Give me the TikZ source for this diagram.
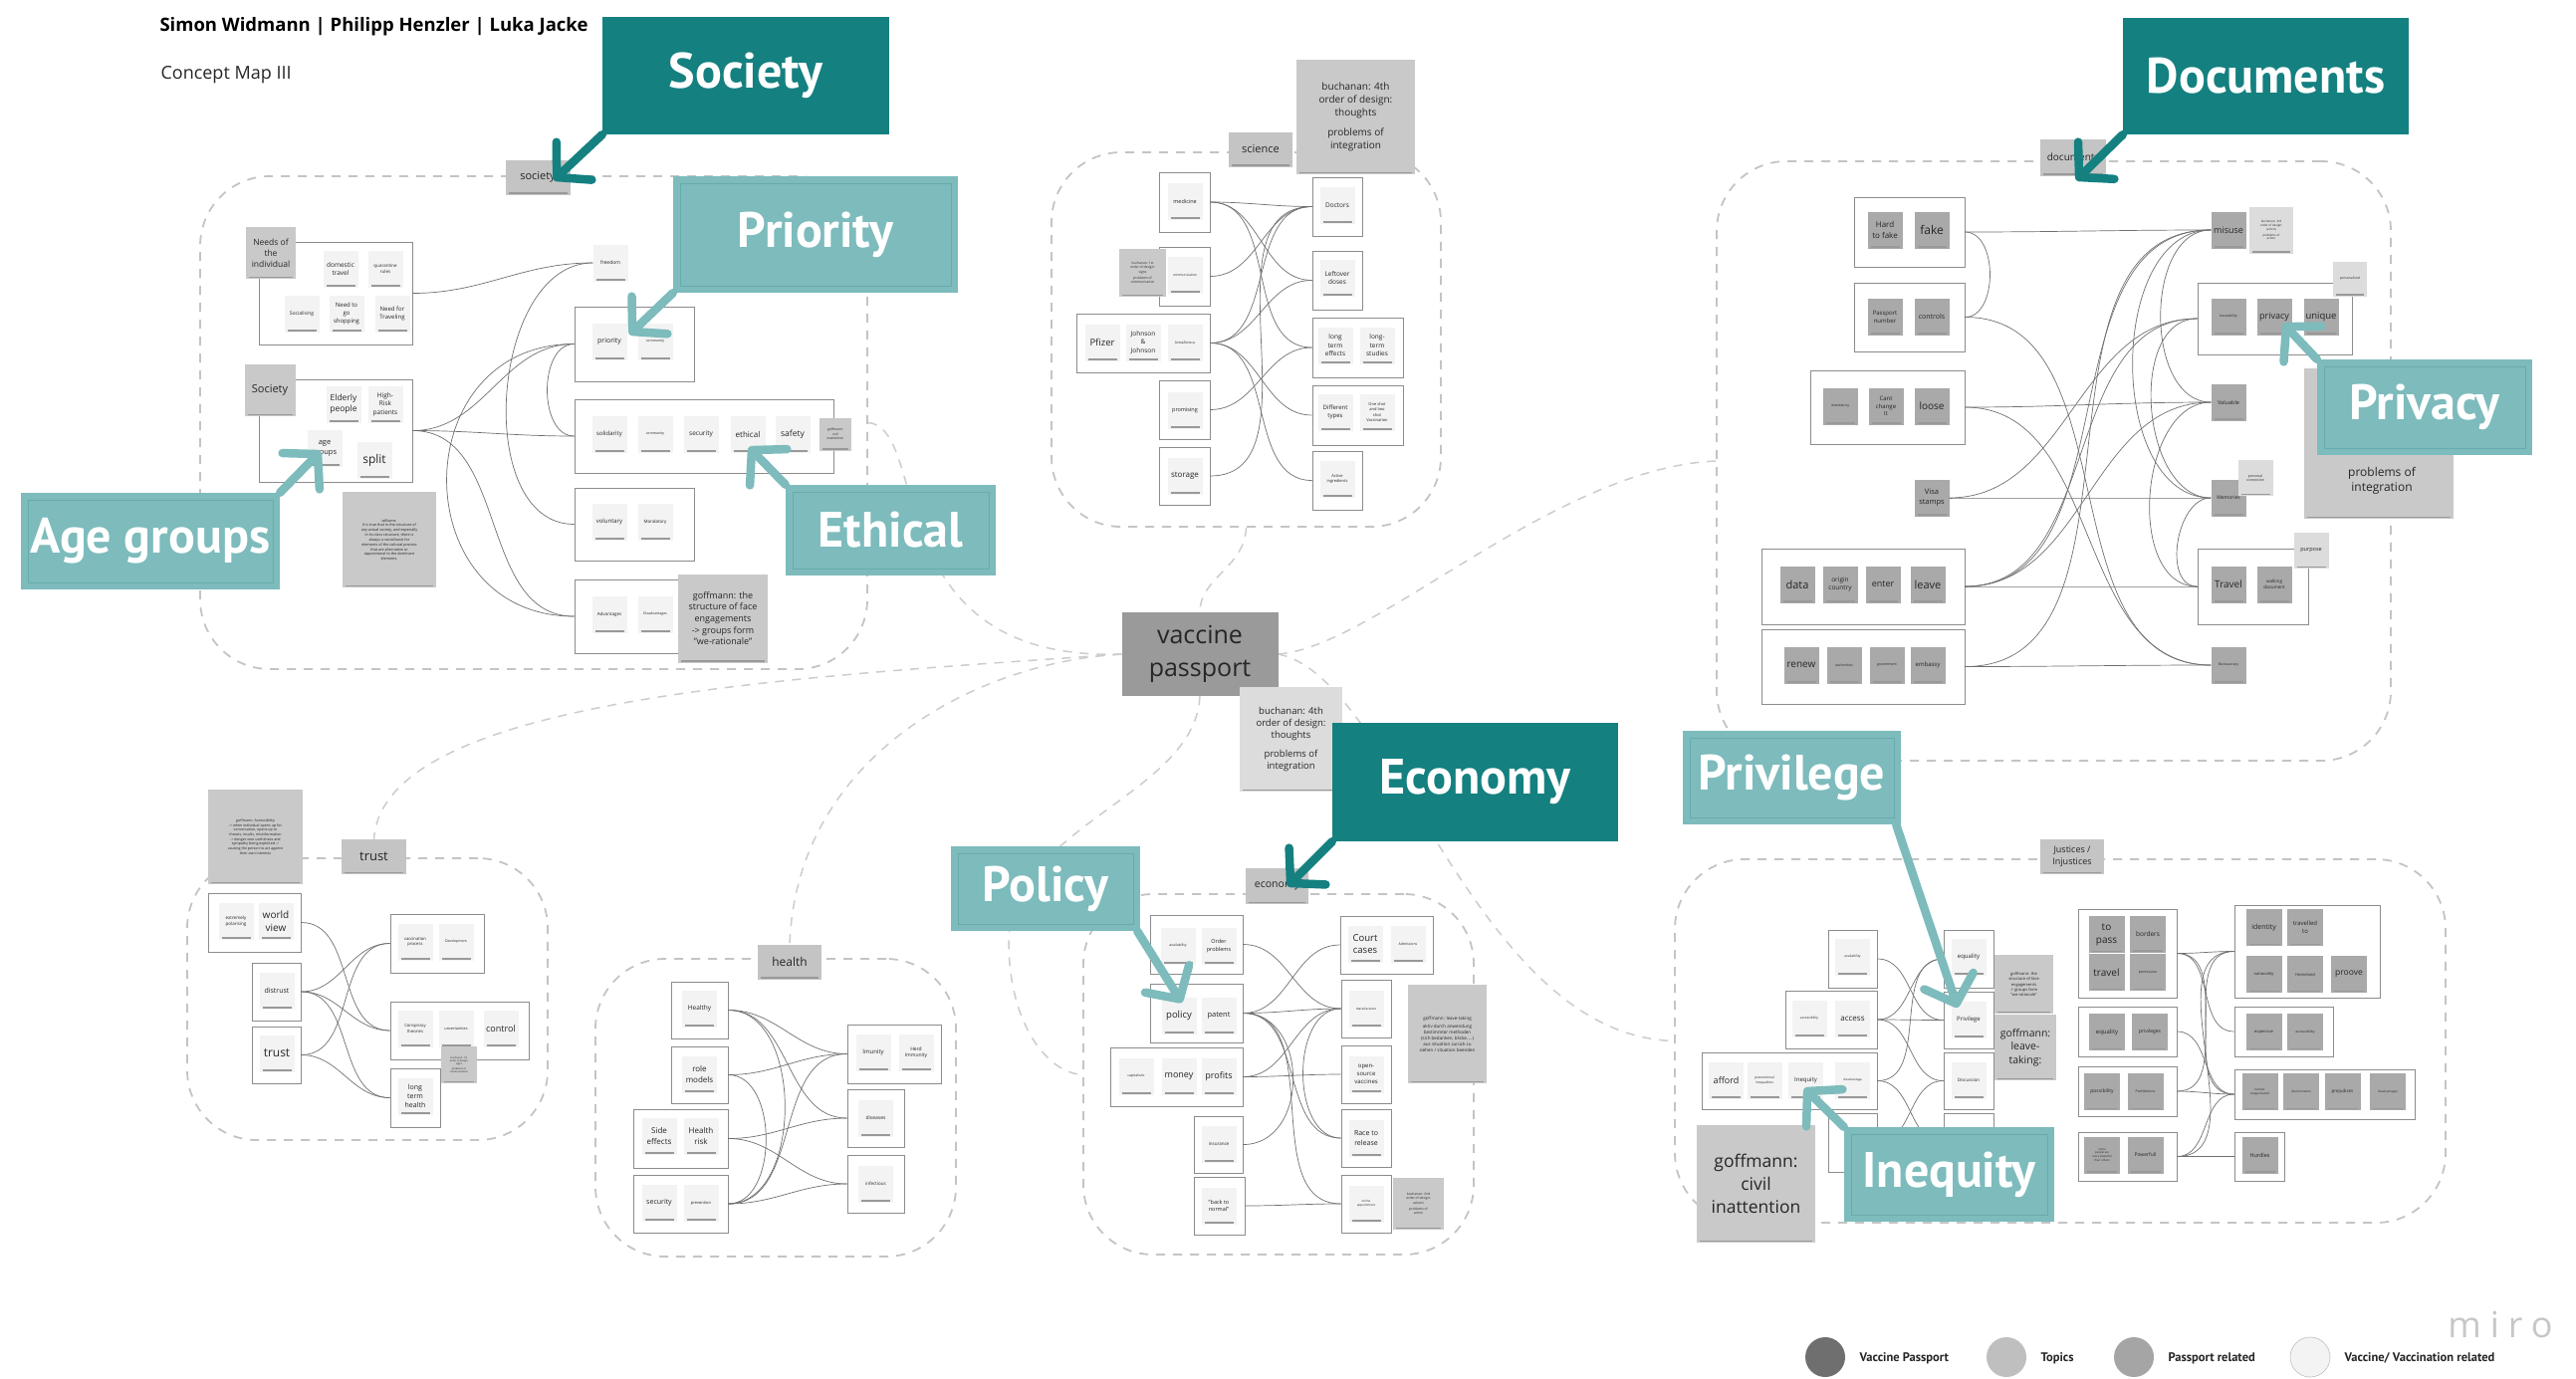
\documentclass[tikz,border=0pt]{standalone}
\usepackage{fontspec}
\setmainfont{Open Sans}
\newfontfamily\ptsans{PT Sans}
\newfontfamily\mirofont[LetterSpace=25]{Open Sans}
\usetikzlibrary{arrows.meta,fit,backgrounds}
\newcommand\fz[1]{\fontsize{#1}{\fpeval{1.3*#1}}\selectfont}
\definecolor{vacc}{HTML}{F3F3F3}
\definecolor{pass}{HTML}{A9A9A9}
\definecolor{topic}{HTML}{C4C4C4}
\definecolor{notec}{HTML}{C9C9C9}
\definecolor{notel}{HTML}{DCDCDC}
\definecolor{vpc}{HTML}{9A9A9A}
\definecolor{dteal}{HTML}{158080}
\definecolor{lteal}{HTML}{7DBBBC}
\definecolor{lline}{HTML}{68ABAC}
\definecolor{frline}{HTML}{8C8C8C}
\definecolor{conc}{HTML}{707070}
\definecolor{dashc}{HTML}{C4C4C4}
\definecolor{legA}{HTML}{6F6F6F}
\definecolor{legB}{HTML}{BFBFBF}
\definecolor{legC}{HTML}{A5A5A5}
\tikzset{
  sticky/.style={rectangle, minimum width=35pt, minimum height=37pt, inner sep=1pt, align=center, text=black!85,
    path picture={\draw[black!40, line width=1.5pt] ([shift={(3pt,1.3pt)}]path picture bounding box.south west) -- ([shift={(-3pt,1.3pt)}]path picture bounding box.south east);}},
  vs/.style={sticky, fill=vacc},
  ps/.style={sticky, fill=pass},
  ts/.style={sticky, fill=topic, minimum width=64pt, minimum height=35pt, font=\fz{11}},
  note/.style={sticky, fill=notec},
  lnote/.style={sticky, fill=notel},
  fr/.style={draw=frline, line width=.9pt, fill=white, inner sep=0pt},
  cluster/.style={draw=dashc, line width=1.8pt, dash pattern=on 9pt off 8pt, rounded corners=70pt, inner sep=0pt},
  link/.style={draw=dashc!85, line width=1.5pt, dash pattern=on 9pt off 8pt},
  con/.style={draw=conc, line width=.7pt},
  lr/.style={out=0, in=180},
  dcall/.style={fill=dteal, text=white, inner sep=0pt, font=\ptsans\bfseries\fz{50}},
  lcall/.style={fill=lteal, text=white, inner sep=0pt, font=\ptsans\bfseries\fz{50},
    path picture={\draw[lline, line width=.8pt] ([shift={(7pt,-7pt)}]path picture bounding box.north west) rectangle ([shift={(-7pt,7pt)}]path picture bounding box.south east);}},
  callarr/.style={line width=8.5pt, line cap=round, -{Straight Barb[length=24pt, width=52pt, round]}},
  legdot/.style={circle, minimum size=40pt, inner sep=0pt},
  legtxt/.style={anchor=west, font=\ptsans\bfseries\fz{12.5}, text=black!85},
}
\begin{document}
\begin{tikzpicture}[x=1pt,y=-1pt]
\useasboundingbox (0,0) rectangle (2587,1384);
\begin{scope}[on background layer]
  \fill[white] (0,0) rectangle (2587,1384);
\end{scope}

\node[anchor=west, font=\bfseries\fz{18.5}] (authors) at (157,27) {Simon Widmann | Philipp Henzler | Luka Jacke};
\node[anchor=west, font=\fz{18}, text=black!85] (mapname) at (158,75) {Concept Map III};

% clusters
\node[cluster, fit={(201,177) (871,672)}] (socBox) {};
\node[cluster, fit={(1056,153) (1447,529)}] (sciBox) {};
\node[cluster, fit={(1724,162) (2401,764)}] (docBox) {};
\node[cluster, fit={(188,862) (550,1145)}] (trustBox) {};
\node[cluster, fit={(598,963) (960,1262)}] (healthBox) {};
\node[cluster, fit={(1088,898) (1480,1260)}] (ecoBox) {};
\node[cluster, fit={(1682,863) (2456,1228)}] (jusBox) {};

% society
\node[fr, fit={(260,243) (414,346)}] (needsF) {};
\node[fr, fit={(260,381) (414,484)}] (socF) {};
\node[fr, fit={(577,308) (697,383)}] (priF) {};
\node[fr, fit={(577,401) (837,475)}] (ethF) {};
\node[fr, fit={(577,490) (697,563)}] (volF) {};
\node[fr, fit={(577,582) (700,656)}] (advF) {};
\node[ts, minimum width=65pt] (socLab) at (540,178) {society};
\node[note, minimum width=50pt, minimum height=52pt, font=\fz{8.5}] (needsTag) at (272,254) {Needs of\\the\\individual};
\node[vs, font=\fz{6.5}] (domestic) at (342,270) {domestic\\travel};
\node[vs, font=\fz{4.5}] (quarantine) at (387,270) {quarantine\\rules};
\node[vs, font=\fz{5}] (socialising) at (303,315) {Socialising};
\node[vs, font=\fz{6}] (shopping) at (348,315) {Need to\\go\\shopping};
\node[vs, font=\fz{6}] (needTravel) at (394,315) {Need for\\Traveling};
\node[note, minimum width=51pt, minimum height=52pt, font=\fz{11}] (socTag) at (271,392) {Society};
\node[vs, font=\fz{8.5}] (elderly) at (345,406) {Elderly\\people};
\node[vs, font=\fz{6.5}] (highRisk) at (387,406) {High-\\Risk\\patients};
\node[vs, font=\fz{7.5}] (ageGroups) at (326,450) {age\\groups};
\node[vs, font=\fz{12}] (split) at (376,462) {split};
\node[vs, font=\fz{5}] (freedom) at (613,264) {freedom};
\node[vs, font=\fz{7}] (priority) at (612,343) {priority};
\node[vs, font=\fz{3.5}] (community) at (658,343) {community};
\node[vs, font=\fz{6}] (solidarity) at (612,436) {solidarity};
\node[vs, font=\fz{3.5}] (communityB) at (658,436) {community};
\node[vs, font=\fz{6.5}] (security) at (704,436) {security};
\node[vs, font=\fz{8}] (ethical) at (751,436) {ethical};
\node[vs, font=\fz{8.5}] (safety) at (796,436) {safety};
\node[note, minimum width=32pt, minimum height=33pt, font=\fz{3.3}] (civilSmall) at (839,436) {goffmann:\\civil\\inattention};
\node[vs, font=\fz{6}] (voluntary) at (612,524) {voluntary};
\node[vs, font=\fz{4.5}] (mandatory) at (658,524) {Mandatory};
\node[vs, font=\fz{4.5}] (advantages) at (612,617) {Advantages};
\node[vs, font=\fz{3.5}] (disadvantages) at (658,617) {Disadvantages};
\node[note, minimum width=90pt, minimum height=89pt, font=\fz{9}] (faceNote) at (726,621) {goffmann: the\\structure of face\\engagements\\-> groups form\\"we-rationale"};
\node[note, minimum width=94pt, minimum height=96pt, font=\fz{3.7}] (williams) at (391,542) {williams:\\It is true that in the structure of\\any actual society, and especially\\in its class structure, there is\\always a social basis for\\elements of the cultural process\\that are alternative or\\oppositional to the dominant\\elements.};
\draw[con] (needsF.east) to[lr] (freedom.west);
\draw[con] (freedom.west) to[out=180,in=180] (volF.west);
\draw[con] (socF.east) to[lr] (priF.west);
\draw[con] (socF.east) to[lr] (ethF.west);
\draw[con] (socF.east) to[lr] (advF.west);
\draw[con] (priF.west) to[out=180,in=180] (ethF.west);
\draw[con] (priF.west) to[out=180,in=180,looseness=1.6] (advF.west);

% science
\node[fr, fit={(1164,173) (1215,233)}] (medF) {};
\node[fr, fit={(1164,248) (1215,307)}] (comF) {};
\node[fr, fit={(1081,315) (1215,374)}] (pfF) {};
\node[fr, fit={(1164,382) (1215,441)}] (proF) {};
\node[fr, fit={(1164,449) (1215,507)}] (stoF) {};
\node[fr, fit={(1318,178) (1368,237)}] (docF) {};
\node[fr, fit={(1318,252) (1368,311)}] (leftF) {};
\node[fr, fit={(1318,319) (1409,379)}] (ltF) {};
\node[fr, fit={(1318,387) (1409,447)}] (diffF) {};
\node[fr, fit={(1318,453) (1368,512)}] (actF) {};
\node[ts] (sciLab) at (1266,150) {science};
\node[note, minimum width=119pt, minimum height=115pt, font=\fz{10}] (sciNote) at (1361.5,117.5) {buchanan: 4th\\order of design:\\thoughts\\[7pt]problems of\\integration};
\node[vs, font=\fz{5.5}] (medicine) at (1190,202) {medicine};
\node[vs, font=\fz{3.3}] (communication) at (1190,276) {communication};
\node[note, minimum width=47pt, minimum height=48pt, font=\fz{3.3}] (signsNote) at (1147.5,274) {buchanan: 1st\\order of design:\\signs\\[2pt]problems of\\communication};
\node[vs, font=\fz{9.5}] (pfizer) at (1107,344) {Pfizer};
\node[vs, font=\fz{6.5}] (johnson) at (1148,344) {Johnson\\\&\\Johnson};
\node[vs, font=\fz{3.5}] (astra) at (1190,344) {AstraZeneca};
\node[vs, font=\fz{5.5}] (promising) at (1190,412) {promising};
\node[vs, font=\fz{8}] (storage) at (1190,478) {storage};
\node[vs, font=\fz{6.5}] (doctors) at (1343,206) {Doctors};
\node[vs, font=\fz{6.5}] (leftover) at (1343,279) {Leftover\\doses};
\node[vs, font=\fz{6.5}] (ltEffects) at (1341,347) {long\\term\\effects};
\node[vs, font=\fz{6.5}] (ltStudies) at (1383,347) {long-\\term\\studies};
\node[vs, font=\fz{6}] (diffTypes) at (1341,414) {Different\\types};
\node[vs, font=\fz{4}] (oneShot) at (1383,414) {One shot\\and two\\shot\\Vaccination};
\node[vs, font=\fz{4}] (active) at (1343,481) {Active\\ingredients};
\draw[con] (medF.east) to[lr] (docF.west);
\draw[con] (medF.east) to[lr] (leftF.west);
\draw[con] (medF.east) to[lr] (ltF.west);
\draw[con] (comF.east) to[lr] (docF.west);
\draw[con] (pfF.east) to[lr] (docF.west);
\draw[con] (pfF.east) to[lr] (leftF.west);
\draw[con] (pfF.east) to[lr] (diffF.west);
\draw[con] (pfF.east) to[lr] (actF.west);
\draw[con] (proF.east) to[lr] (ltF.west);
\draw[con] (stoF.east) to[lr] (docF.west);

% documents
\node[fr, fit={(1862,198) (1973,268)}] (hfF) {};
\node[fr, fit={(1862,284) (1973,353)}] (ppF) {};
\node[fr, fit={(1818,372) (1973,446)}] (manF) {};
\node[fr, fit={(1769,551) (1973,627)}] (dataF) {};
\node[fr, fit={(1769,632) (1973,707)}] (renF) {};
\node[fr, fit={(2207,284) (2362,356)}] (trF) {};
\node[fr, fit={(2207,551) (2318,627)}] (travF) {};
\node[ts, minimum width=66pt, minimum height=37pt, font=\fz{10}] (docLab) at (2082,158) {documents};
\node[ps, font=\fz{8}] (hardFake) at (1893,231) {Hard\\to fake};
\node[ps, font=\fz{12}] (fake) at (1940,231) {fake};
\node[ps, font=\fz{6}] (ppNumber) at (1893,318) {Passport\\number};
\node[ps, font=\fz{7}] (controls) at (1940,318) {controls};
\node[ps, font=\fz{3.5}] (mandatoryD) at (1848,408) {mandatory};
\node[ps, font=\fz{6}] (cantChange) at (1894,408) {Cant\\change\\it};
\node[ps, font=\fz{10}] (loose) at (1940,408) {loose};
\node[ps, font=\fz{7.5}] (visa) at (1940,500) {Visa\\stamps};
\node[ps, font=\fz{11}] (data) at (1805,587) {data};
\node[ps, font=\fz{6.5}] (origin) at (1848,587) {origin\\country};
\node[ps, font=\fz{9}] (enter) at (1891,587) {enter};
\node[ps, font=\fz{11}] (leave) at (1936,587) {leave};
\node[ps, font=\fz{10}] (renew) at (1809,668) {renew};
\node[ps, font=\fz{3.5}] (authorities) at (1852,668) {authorities};
\node[ps, font=\fz{3.5}] (government) at (1895,668) {government};
\node[ps, font=\fz{6}] (embassy) at (1936,668) {embassy};
\node[ps, font=\fz{9}] (misuse) at (2238,231) {misuse};
\node[lnote, minimum width=44pt, minimum height=47pt, font=\fz{3}] (actionNote) at (2281,231) {buchanan: 3rd\\order of design:\\actions\\[2pt]problems of\\action};
\node[ps, font=\fz{3.5}] (traceability) at (2238,318) {traceability};
\node[ps, font=\fz{9}] (privacy) at (2284,318) {privacy};
\node[ps, font=\fz{9.5}] (unique) at (2331,318) {unique};
\node[lnote, minimum width=34pt, minimum height=35pt, font=\fz{3.3}] (personalised) at (2360,280) {personalised};
\node[ps, font=\fz{5.5}] (valuable) at (2238,404) {Valuable};
\node[ps, font=\fz{5}] (memories) at (2238,500) {Memories};
\node[lnote, minimum width=35pt, minimum height=36pt, font=\fz{3.5}] (personalNote) at (2265,480) {personal\\connection};
\node[ps, font=\fz{10}] (travelD) at (2238,587) {Travel};
\node[ps, font=\fz{4.5}] (walking) at (2284,587) {walking\\document};
\node[lnote, minimum width=35pt, minimum height=36pt, font=\fz{5.5}] (purposeNote) at (2321,553) {purpose};
\node[ps, font=\fz{3.5}] (bureaucracy) at (2238,668) {Bureaucracy};
\node[note, fit={(2315,371) (2463,520)}] (integNote) {};
\node[font=\fz{12}, align=center, text=black!85] (integText) at (2392,483) {problems of\\integration};
\draw[con] (hfF.east) to[lr] (misuse.west);
\draw[con] (hfF.east) to[out=0,in=0] (ppF.east);
\draw[con] (ppF.east) to[lr] (bureaucracy.west);
\draw[con] (manF.east) to[lr] (valuable.west);
\draw[con] (manF.east) to[lr] (bureaucracy.west);
\draw[con] (visa.east) to[lr] (memories.west);
\draw[con] (visa.east) to[lr] (trF.west);
\draw[con] (dataF.east) to[lr] (travF.west);
\draw[con] (dataF.east) to[lr] (misuse.west);
\draw[con] (dataF.east) to[lr] (trF.west);
\draw[con] (dataF.east) to[lr] (valuable.west);
\draw[con] (renF.east) to[lr] (bureaucracy.west);
\draw[con] (renF.east) to[lr] (misuse.west);
\draw[con] (misuse.west) to[out=180,in=180] (memories.west);
\draw[con] (trF.west) to[out=180,in=180] (memories.west);
\draw[con] (misuse.west) to[out=180,in=180] (valuable.west);
\draw[con] (valuable.west) to[out=180,in=180] (travF.west);
\draw[con] (memories.west) to[out=180,in=180] (travF.west);

% trust
\node[fr, fit={(209,897) (302,956)}] (wvF) {};
\node[fr, fit={(253,967) (302,1025)}] (disF) {};
\node[fr, fit={(253,1031) (302,1088)}] (truF) {};
\node[fr, fit={(392,918) (486,977)}] (vacF) {};
\node[fr, fit={(392,1006) (531,1064)}] (conF) {};
\node[fr, fit={(392,1073) (442,1132)}] (lthF) {};
\node[ts, minimum width=65pt, font=\fz{13}] (trustLab) at (375.5,860.5) {trust};
\node[note, minimum width=95pt, minimum height=95pt, font=\fz{3.6}] (accessNote) at (256.5,840.5) {goffmann: Accessibility\\-> when individual opens up for\\conversation, opens up to\\threats, insults, misinformation\\-> danger own usefulness and\\sympathy being exploited ->\\causing the person to act against\\their own interests};
\node[vs, font=\fz{4.5}] (polarising) at (237,925) {extremely\\polarising};
\node[vs, font=\fz{10}] (worldView) at (277,925) {world\\view};
\node[vs, font=\fz{7}] (distrust) at (278,995) {distrust};
\node[vs, font=\fz{12}] (trustS) at (278,1058) {trust};
\node[vs, font=\fz{4.2}] (vacProcess) at (417,946) {vaccination\\process};
\node[vs, font=\fz{3.5}] (development) at (458,946) {Development};
\node[vs, font=\fz{4.2}] (conspiracy) at (417,1033) {Conspiracy\\theories};
\node[vs, font=\fz{3.8}] (uncertain) at (458,1033) {uncertainties};
\node[vs, font=\fz{9}] (control) at (503,1033) {control};
\node[note, minimum width=36pt, minimum height=37pt, font=\fz{2.5}] (signsNoteB) at (461,1069.5) {buchanan: 1st\\order of design:\\signs\\[1pt]problems of\\communication};
\node[vs, font=\fz{7}] (lth) at (417,1101) {long\\term\\health};
\draw[con] (wvF.east) to[lr] (conF.west);
\draw[con] (disF.east) to[lr] (vacF.west);
\draw[con] (disF.east) to[lr] (conF.west);
\draw[con] (disF.east) to[lr] (lthF.west);
\draw[con] (truF.east) to[lr] (vacF.west);
\draw[con] (truF.east) to[lr] (lthF.west);

% health
\node[fr, fit={(674,986) (731,1043)}] (hF) {};
\node[fr, fit={(674,1051) (731,1108)}] (rmF) {};
\node[fr, fit={(636,1114) (731,1173)}] (seF) {};
\node[fr, fit={(636,1180) (731,1238)}] (secF) {};
\node[fr, fit={(851,1029) (945,1088)}] (imF) {};
\node[fr, fit={(851,1094) (908,1152)}] (dzF) {};
\node[fr, fit={(851,1160) (908,1218)}] (infF) {};
\node[ts, font=\fz{12}] (healthLab) at (793,966) {health};
\node[vs, font=\fz{6.5}] (healthy) at (702.5,1013) {Healthy};
\node[vs, font=\fz{8}] (roleModels) at (702.5,1079) {role\\models};
\node[vs, font=\fz{8}] (sideEffects) at (662,1141) {Side\\effects};
\node[vs, font=\fz{8}] (healthRisk) at (704,1141) {Health\\risk};
\node[vs, font=\fz{7}] (securityH) at (662,1208) {security};
\node[vs, font=\fz{4}] (prevention) at (704,1208) {prevention};
\node[vs, font=\fz{6}] (imunity) at (877,1057) {Imunity};
\node[vs, font=\fz{5}] (herd) at (920,1057) {Herd\\Immunity};
\node[vs, font=\fz{5}] (diseases) at (879.5,1123) {diseases};
\node[vs, font=\fz{4.5}] (infectious) at (879.5,1189) {infectious};
\draw[con] (hF.east) to[lr] (imF.west);
\draw[con] (hF.east) to[lr] (dzF.west);
\draw[con] (hF.east) to[out=0,in=0] (secF.east);
\draw[con] (rmF.east) to[lr] (imF.west);
\draw[con] (rmF.east) to[out=0,in=0] (secF.east);
\draw[con] (seF.east) to[lr] (dzF.west);
\draw[con] (seF.east) to[lr] (infF.west);
\draw[con] (secF.east) to[lr] (imF.west);
\draw[con] (secF.east) to[lr] (infF.west);

% economy
\node[fr, fit={(1155,919) (1248,978)}] (avF) {};
\node[fr, fit={(1155,988) (1248,1047)}] (poF) {};
\node[fr, fit={(1115,1052) (1248,1111)}] (caF) {};
\node[fr, fit={(1199,1121) (1248,1178)}] (inF) {};
\node[fr, fit={(1199,1182) (1250,1240)}] (btnF) {};
\node[fr, fit={(1346,920) (1439,978)}] (ccF) {};
\node[fr, fit={(1347,984) (1397,1042)}] (mfF) {};
\node[fr, fit={(1347,1050) (1397,1108)}] (osF) {};
\node[fr, fit={(1347,1114) (1397,1172)}] (raF) {};
\node[fr, fit={(1347,1180) (1397,1238)}] (onF) {};
\node[ts, minimum width=63pt, minimum height=36pt, font=\fz{10.5}] (ecoLab) at (1282.5,890) {economy};
\node[vs, font=\fz{3.5}] (availability) at (1183,950) {availability};
\node[vs, font=\fz{5.5}] (orderProb) at (1224,950) {Order\\problems};
\node[vs, font=\fz{9.5}] (policy) at (1184,1020) {policy};
\node[vs, font=\fz{7.5}] (patent) at (1224,1020) {patent};
\node[vs, font=\fz{3.5}] (capitalistic) at (1141,1081) {capitalistic};
\node[vs, font=\fz{9}] (money) at (1184,1081) {money};
\node[vs, font=\fz{9}] (profits) at (1224,1081) {profits};
\node[vs, font=\fz{4.5}] (insurance) at (1224,1149) {insurance};
\node[vs, font=\fz{5.5}] (backNormal) at (1224,1211) {"back to\\normal"};
\node[vs, font=\fz{9.5}] (court) at (1371,948) {Court\\cases};
\node[vs, font=\fz{3.5}] (admissions) at (1414,948) {Admissions};
\node[vs, font=\fz{3.2}] (manufacturer) at (1372,1013) {manufacturer};
\node[vs, font=\fz{6}] (openSource) at (1372,1079) {open-\\source\\vaccines};
\node[vs, font=\fz{7}] (race) at (1372,1143) {Race to\\release};
\node[vs, font=\fz{3}] (online) at (1372,1209) {online\\appointment};
\node[note, minimum width=51pt, minimum height=52pt, font=\fz{3.3}] (actionNoteB) at (1424.5,1209) {buchanan: 2nd\\order of design:\\actions\\[2pt]problems of\\action};
\node[note, minimum width=79pt, minimum height=99pt, font=\fz{4.5}] (leaveNote) at (1453.5,1038.5) {goffmann: leave-taking\\[3pt]aktiv durch anwendung\\bestimmter methoden\\(sich bedanken, blicke, ...)\\aus situation zurück zu\\ziehen / situation beenden};
\draw[con] (avF.east) to[lr] (mfF.west);
\draw[con] (poF.east) to[lr] (ccF.west);
\draw[con] (poF.east) to[lr] (mfF.west);
\draw[con] (poF.east) to[lr] (raF.west);
\draw[con] (poF.east) to[lr] (onF.west);
\draw[con] (poF.east) to[out=0,in=0,looseness=1.3] (inF.east);
\draw[con] (caF.east) to[lr] (osF.west);
\draw[con] (caF.east) to[lr] (mfF.west);
\draw[con] (btnF.east) to[lr] (onF.west);
\draw[con] (mfF.west) to[out=180,in=180] (raF.west);

% justices
\node[fr, fit={(1836,934) (1885,992)}] (javF) {};
\node[fr, fit={(1793,995) (1885,1053)}] (jacF) {};
\node[fr, fit={(1709,1057) (1885,1114)}] (jafF) {};
\node[fr, fit={(1836,1118) (1885,1177)}] (jloF) {};
\node[fr, fit={(1952,934) (2002,992)}] (eqF) {};
\node[fr, fit={(1952,996) (2002,1053)}] (pvF) {};
\node[fr, fit={(1952,1057) (2002,1114)}] (diF) {};
\node[fr, fit={(1952,1118) (2002,1177)}] (jlo2F) {};
\node[fr, fit={(2087,913) (2186,1002)}] (tpF) {};
\node[fr, fit={(2244,909) (2390,1002)}] (idF) {};
\node[fr, fit={(2087,1011) (2186,1061)}] (jeqF) {};
\node[fr, fit={(2244,1011) (2343,1061)}] (exF) {};
\node[fr, fit={(2087,1071) (2186,1121)}] (pbF) {};
\node[fr, fit={(2244,1074) (2425,1124)}] (huF) {};
\node[fr, fit={(2087,1137) (2186,1186)}] (smF) {};
\node[fr, fit={(2244,1137) (2294,1186)}] (hdF) {};
\node[ts, font=\fz{9}] (jusLab) at (2081,860.5) {Justices /\\Injustices};
\node[vs, font=\fz{3.3}] (jAvail) at (1860.5,961) {availability};
\node[vs, font=\fz{3.3}] (jAccessibility) at (1817,1023) {accessibility};
\node[vs, font=\fz{8}] (jAccess) at (1860.5,1023) {access};
\node[vs, font=\fz{9}] (afford) at (1733.5,1085) {afford};
\node[vs, font=\fz{3.3}] (prevIneq) at (1772,1085) {preventional\\inequalities};
\node[vs, font=\fz{6}] (inequity) at (1813.5,1085) {Inequity};
\node[vs, font=\fz{3}] (jDisadv) at (1860.5,1085) {disadvantage};
\node[vs, font=\fz{6}] (equality) at (1977,961) {equality};
\node[vs, font=\fz{6}] (privilege) at (1977,1024) {Privilege};
\node[vs, font=\fz{4.5}] (discussion) at (1977,1085) {Discussion};
\node[note, minimum width=59pt, minimum height=59pt, font=\fz{4}] (faceNoteB) at (2032.5,988.5) {goffmann: the\\structure of face\\engagements\\-> groups form\\"we-rationale"};
\node[note, minimum width=62pt, minimum height=66pt, font=\fz{10.5}] (leaveNoteB) at (2034,1052) {goffmann:\\leave-\\taking:};
\node[ps, minimum width=36pt, font=\fz{10}] (toPass) at (2115.5,938.5) {to\\pass};
\node[ps, minimum width=36pt, font=\fz{6.5}] (borders) at (2157,938) {borders};
\node[ps, minimum width=36pt, font=\fz{10}] (travelJ) at (2115.5,976.5) {travel};
\node[ps, minimum width=36pt, font=\fz{3.5}] (permission) at (2157,976.5) {permission};
\node[ps, minimum width=36pt, font=\fz{7}] (identity) at (2273.5,931.5) {identity};
\node[ps, minimum width=36pt, font=\fz{6}] (travelledTo) at (2315,931.5) {travelled\\to};
\node[ps, minimum width=36pt, font=\fz{4}] (nationality) at (2273.5,978.5) {nationality};
\node[ps, minimum width=36pt, font=\fz{4}] (homeland) at (2315,978.5) {Homeland};
\node[ps, minimum width=36pt, font=\fz{8.5}] (proove) at (2359,978.5) {proove};
\node[ps, minimum width=36pt, font=\fz{6}] (equalityJ) at (2116,1036.5) {equality};
\node[ps, minimum width=36pt, font=\fz{5}] (privileges) at (2159,1036.5) {privileges};
\node[ps, minimum width=36pt, font=\fz{4}] (expensive) at (2273.5,1036.5) {expensive};
\node[ps, minimum width=36pt, font=\fz{3.5}] (accessJ) at (2315,1036.5) {accessibility};
\node[ps, minimum width=36pt, font=\fz{5}] (possibility) at (2111,1096.5) {possibility};
\node[ps, minimum width=36pt, font=\fz{3.5}] (prohibitions) at (2154.5,1096.5) {Prohibitions};
\node[ps, minimum width=36pt, font=\fz{3}] (humanCat) at (2269.5,1096.5) {human\\categorisation};
\node[ps, minimum width=36pt, font=\fz{3}] (discrimination) at (2311,1096.5) {discrimination};
\node[ps, minimum width=36pt, font=\fz{4.5}] (prejudices) at (2352.5,1096.5) {prejudices};
\node[ps, minimum width=36pt, font=\fz{3}] (disadvJ) at (2398,1096.5) {disadvantages};
\node[ps, minimum width=36pt, font=\fz{2.8}] (somePeople) at (2111,1160) {some\\people are\\more powerful\\than others};
\node[ps, minimum width=36pt, font=\fz{5}] (powerful) at (2154.5,1160) {Powerfull};
\node[ps, minimum width=36pt, font=\fz{5.5}] (hurdles) at (2269.5,1160) {Hurdles};
\draw[con] (javF.east) to[lr] (pvF.west);
\draw[con] (jacF.east) to[lr] (eqF.west);
\draw[con] (jacF.east) to[lr] (pvF.west);
\draw[con] (jacF.east) to[lr] (diF.west);
\draw[con] (jafF.east) to[lr] (eqF.west);
\draw[con] (jafF.east) to[lr] (jlo2F.west);
\draw[con] (jloF.east) to[lr] (diF.west);
\draw[con] (tpF.east) to[lr] (idF.west);
\draw[con] (tpF.east) to[lr] (exF.west);
\draw[con] (tpF.east) to[lr] (huF.west);
\draw[con] (jeqF.east) to[lr] (huF.west);
\draw[con] (pbF.east) to[lr] (huF.west);
\draw[con] (pbF.east) to[lr] (idF.west);
\draw[con] (smF.east) to[lr] (hdF.west);
\draw[con] (smF.east) to[lr] (idF.west);
\draw[con] (smF.east) to[lr] (huF.west);
\node[note, minimum width=119pt, minimum height=118pt, font=\fz{17.5}] (civilNote) at (1763.5,1189) {goffmann:\\civil\\inattention};

% centre
\node[sticky, fill=vpc, minimum width=157pt, minimum height=84pt, font=\fz{25}] (vp) at (1205,657) {vaccine\\passport};
\node[lnote, minimum width=103pt, minimum height=105pt, font=\fz{9.5}] (vpNote) at (1296.5,742.5) {buchanan: 4th\\order of design:\\thoughts\\[6pt]problems of\\integration};

\begin{scope}[on background layer]
  \draw[link] (socBox.east) .. controls (935,430) and (880,665) .. (vp.west);
  \draw[link] (vp.west) .. controls (800,680) and (385,700) .. (trustLab.north);
  \draw[link] (vp.west) .. controls (980,665) and (800,760) .. (healthLab.north);
  \draw[link] (sciBox.south) .. controls (1250,570) and (1205,580) .. (vp.north);
  \draw[link] (vp.east) .. controls (1380,650) and (1560,470) .. (docBox.west);
  \draw[link] (vp.east) .. controls (1400,680) and (1480,1040) .. (jusBox.west);
  \draw[link] (vp.south) .. controls (1200,800) and (1010,830) .. (1013,950) .. controls (1015,1040) and (1060,1080) .. (ecoBox.west);
\end{scope}

% callouts
\node[dcall, minimum width=288pt, minimum height=118pt] (societyC) at (749,76) {Society};
\node[lcall, minimum width=286pt, minimum height=117pt] (priorityC) at (819,235.5) {Priority};
\node[lcall, minimum width=211pt, minimum height=91pt] (ethicalC) at (894.5,532.5) {Ethical};
\node[lcall, minimum width=260pt, minimum height=97pt] (ageC) at (151,543.5) {Age groups};
\node[dcall, minimum width=287pt, minimum height=117pt] (documentsC) at (2275.5,76.5) {Documents};
\node[lcall, minimum width=216pt, minimum height=96pt] (privacyC) at (2435,409) {Privacy};
\node[dcall, minimum width=287pt, minimum height=119pt] (economyC) at (1481.5,785.5) {Economy};
\node[lcall, minimum width=190pt, minimum height=85pt] (policyC) at (1050,892.5) {Policy};
\node[lcall, minimum width=219pt, minimum height=94pt] (privilegeC) at (1799.5,781) {Privilege};
\node[lcall, minimum width=211pt, minimum height=95pt] (inequityC) at (1957.5,1179.5) {Inequity};
\coordinate (societyTip) at (556,181);
\coordinate (priorityTip) at (632,336);
\coordinate (ethicalTip) at (752,449);
\coordinate (ageTip) at (322,453);
\coordinate (documentsTip) at (2085,181);
\coordinate (privacyTip) at (2293,325);
\coordinate (economyTip) at (1293,890);
\coordinate (policyTip) at (1187,1007);
\coordinate (privilegeTip) at (1966,1012);
\coordinate (inequityTip) at (1812,1093);
\draw[callarr, dteal] (societyC.south west) -- (societyTip);
\draw[callarr, lteal] (priorityC.south west) -- (priorityTip);
\draw[callarr, lteal] (ethicalC.north west) -- (ethicalTip);
\draw[callarr, lteal] (ageC.north east) -- (ageTip);
\draw[callarr, dteal] (documentsC.south west) -- (documentsTip);
\draw[callarr, lteal] (privacyC.north west) -- (privacyTip);
\draw[callarr, dteal] (economyC.south west) -- (economyTip);
\draw[callarr, lteal] ([xshift=-3pt]policyC.south east) -- (policyTip);
\draw[callarr, lteal] ([xshift=-5pt]privilegeC.south east) -- (privilegeTip);
\draw[callarr, lteal] (inequityC.north west) -- (inequityTip);

% legend
\node[legdot, fill=legA] (legVP) at (1833,1363) {};
\node[legtxt] (legVPt) at (1864,1364) {Vaccine Passport};
\node[legdot, fill=legB] (legTop) at (2015,1363) {};
\node[legtxt] (legTopt) at (2046,1364) {Topics};
\node[legdot, fill=legC] (legPass) at (2143,1363) {};
\node[legtxt] (legPasst) at (2174,1364) {Passport related};
\node[legdot, fill=vacc, draw=black!25, line width=.6pt] (legVac) at (2320,1363) {};
\node[legtxt] (legVact) at (2351,1364) {Vaccine/ Vaccination related};
\node[font=\mirofont\fz{36}, text=black!22] (miro) at (2511,1330) {miro};
\end{tikzpicture}
\end{document}
